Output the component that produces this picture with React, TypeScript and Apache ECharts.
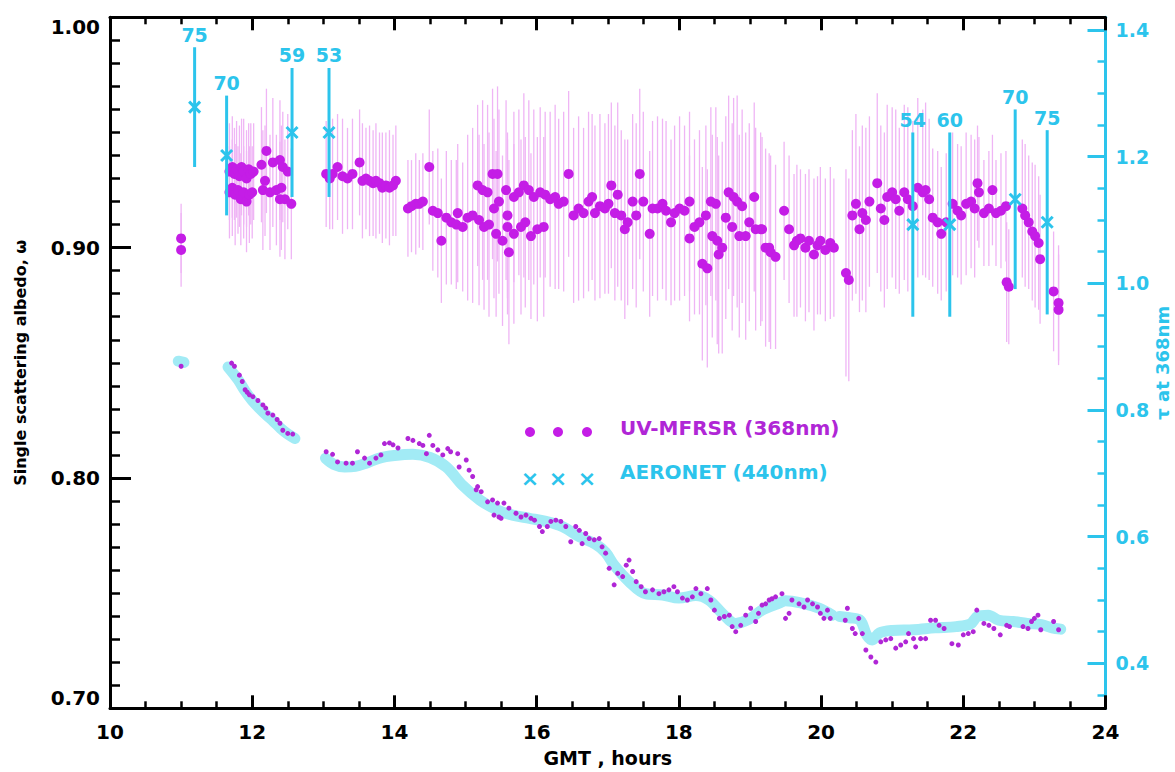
import React, { useEffect, useRef } from "react";
import * as echarts from "echarts";

// ---------- data ----------
// UV-MFRSR single scattering albedo at 368 nm: [GMT hour, albedo, error half-width]
const uvSsa: number[][] = [
  [11.00,0.904,0.015],[11.00,0.899,0.016],
  [11.68,0.933,0.021],[11.68,0.924,0.020],[11.72,0.935,0.022],[11.72,0.926,0.021],[11.75,0.932,0.020],[11.76,0.923,0.022],[11.78,0.934,0.021],[11.80,0.925,0.019],[11.82,0.931,0.022],[11.84,0.921,0.020],[11.85,0.935,0.021],[11.88,0.933,0.023],[11.88,0.924,0.020],[11.92,0.930,0.021],[11.92,0.920,0.022],[11.95,0.934,0.020],[11.96,0.923,0.021],[11.98,0.932,0.022],[12.00,0.924,0.020],[12.02,0.933,0.021],
  [12.13,0.936,0.025],[12.15,0.925,0.026],[12.18,0.929,0.024],[12.20,0.942,0.027],[12.25,0.924,0.025],[12.29,0.937,0.028],[12.34,0.925,0.024],[12.39,0.938,0.026],[12.39,0.921,0.025],[12.41,0.926,0.027],[12.43,0.935,0.024],[12.46,0.921,0.026],[12.50,0.933,0.025],[12.55,0.919,0.024],
  [13.04,0.932,0.023],[13.09,0.930,0.022],[13.13,0.932,0.024],[13.20,0.935,0.023],[13.27,0.931,0.025],[13.34,0.930,0.022],[13.41,0.932,0.024],[13.51,0.937,0.023],[13.55,0.929,0.025],[13.60,0.930,0.022],[13.65,0.929,0.024],[13.70,0.928,0.023],[13.74,0.929,0.025],[13.79,0.928,0.022],[13.83,0.926,0.024],[13.88,0.927,0.023],[13.93,0.926,0.025],[13.98,0.927,0.022],[14.02,0.929,0.024],
  [14.19,0.917,0.021],[14.24,0.918,0.020],[14.30,0.919,0.022],[14.35,0.919,0.019],[14.40,0.920,0.021],[14.49,0.935,0.025],[14.54,0.916,0.026],[14.61,0.915,0.028],[14.66,0.903,0.027],[14.73,0.913,0.029],[14.80,0.911,0.027],[14.87,0.910,0.028],[14.89,0.915,0.030],[14.96,0.909,0.028],
  [15.03,0.913,0.036],[15.10,0.914,0.038],[15.17,0.927,0.035],[15.19,0.912,0.037],[15.24,0.925,0.039],[15.26,0.909,0.036],[15.31,0.924,0.038],[15.33,0.910,0.040],[15.38,0.932,0.037],[15.40,0.917,0.039],[15.43,0.906,0.036],[15.45,0.932,0.038],[15.47,0.920,0.040],[15.52,0.903,0.037],[15.57,0.925,0.039],[15.59,0.914,0.036],[15.59,0.909,0.038],[15.61,0.898,0.040],[15.68,0.922,0.037],[15.68,0.906,0.039],[15.75,0.924,0.036],[15.78,0.909,0.038],[15.82,0.927,0.040],[15.84,0.911,0.037],[15.89,0.925,0.039],[15.92,0.905,0.036],[15.96,0.922,0.038],[16.01,0.908,0.040],[16.05,0.924,0.037],[16.10,0.909,0.039],[16.12,0.923,0.036],[16.19,0.921,0.038],[16.26,0.922,0.040],[16.31,0.919,0.037],[16.38,0.920,0.039],[16.45,0.932,0.036],[16.52,0.914,0.038],[16.59,0.917,0.040],[16.66,0.915,0.037],[16.73,0.920,0.039],[16.78,0.922,0.036],[16.82,0.915,0.038],[16.89,0.918,0.040],[16.96,0.917,0.037],[17.01,0.919,0.039],[17.05,0.927,0.036],[17.10,0.915,0.038],[17.14,0.923,0.040],[17.19,0.914,0.037],[17.24,0.908,0.039],[17.28,0.911,0.036],[17.35,0.920,0.038],[17.40,0.914,0.040],[17.45,0.932,0.037],[17.50,0.920,0.039],[17.59,0.906,0.036],[17.63,0.917,0.038],[17.70,0.917,0.040],[17.77,0.919,0.037],[17.82,0.916,0.039],[17.89,0.911,0.036],[17.94,0.915,0.038],[18.01,0.917,0.040],[18.08,0.916,0.037],[18.15,0.920,0.039],[18.15,0.904,0.036],[18.22,0.909,0.038],[18.29,0.911,0.040],[18.33,0.893,0.042],[18.38,0.914,0.039],[18.40,0.891,0.043],[18.45,0.920,0.041],[18.47,0.905,0.044],[18.52,0.919,0.042],[18.54,0.903,0.045],[18.56,0.897,0.043],[18.61,0.900,0.046],[18.66,0.913,0.044],[18.70,0.924,0.042],[18.75,0.909,0.045],[18.77,0.922,0.043],[18.82,0.920,0.046],[18.85,0.905,0.044],[18.89,0.918,0.042],[18.94,0.905,0.045],[18.99,0.911,0.043],[19.06,0.922,0.041],[19.08,0.908,0.044],[19.15,0.908,0.042],[19.17,0.908,0.040],[19.22,0.900,0.043],[19.27,0.900,0.041],[19.29,0.898,0.042],[19.36,0.896,0.040],
  [19.48,0.916,0.030],[19.55,0.908,0.032],[19.62,0.901,0.031],[19.66,0.903,0.033],[19.71,0.904,0.030],[19.78,0.900,0.032],[19.83,0.903,0.031],[19.90,0.897,0.033],[19.95,0.901,0.030],[19.99,0.903,0.032],[20.06,0.899,0.031],[20.13,0.902,0.033],[20.18,0.900,0.030],
  [20.35,0.889,0.045],[20.39,0.886,0.044],
  [20.44,0.914,0.037],[20.49,0.919,0.039],[20.54,0.908,0.036],[20.58,0.915,0.038],[20.63,0.912,0.040],[20.68,0.920,0.037],[20.79,0.928,0.039],[20.84,0.917,0.036],[20.89,0.912,0.038],[20.93,0.922,0.040],[21.00,0.924,0.037],[21.05,0.921,0.039],[21.10,0.916,0.036],[21.17,0.924,0.038],[21.22,0.921,0.040],[21.29,0.918,0.037],[21.36,0.926,0.039],[21.43,0.924,0.036],[21.47,0.925,0.038],[21.52,0.921,0.035],
  [21.57,0.913,0.030],[21.64,0.911,0.031],[21.69,0.906,0.029],[21.76,0.911,0.030],[21.85,0.919,0.031],[21.92,0.916,0.029],[21.97,0.914,0.030],[22.04,0.919,0.031],[22.11,0.920,0.029],[22.16,0.917,0.030],
  [22.20,0.928,0.025],[22.22,0.924,0.024],[22.29,0.915,0.023],[22.36,0.917,0.025],[22.41,0.925,0.024],[22.46,0.915,0.023],[22.53,0.916,0.025],[22.60,0.918,0.024],[22.61,0.885,0.026],[22.64,0.883,0.025],
  [22.83,0.917,0.030],[22.87,0.914,0.031],[22.92,0.911,0.029],[22.97,0.907,0.030],[23.01,0.905,0.031],[23.06,0.902,0.029],[23.08,0.895,0.028],[23.27,0.881,0.026],[23.34,0.876,0.025],[23.34,0.873,0.024]
];

// AERONET single scattering albedo at 440 nm with solar zenith angle labels
const aeronetTime = [11.19, 11.64, 12.56, 13.08, 21.29, 21.81, 22.73, 23.18];
const aeronetSsa = [0.961, 0.940, 0.950, 0.950, 0.910, 0.910, 0.921, 0.911];
const aeronetErr = [0.026, 0.026, 0.028, 0.028, 0.040, 0.040, 0.039, 0.040];
const zenithLabels = ["75", "70", "59", "53", "54", "60", "70", "75"];

// UV-MFRSR optical depth at 368 nm: [GMT hour, tau]
const uvTau: number[][] = [
  [11.00,0.869],[11.71,0.874],[11.75,0.869],[11.82,0.855],[11.86,0.845],[11.90,0.832],[11.93,0.828],[11.96,0.824],[12.01,0.821],[12.08,0.815],[12.15,0.808],[12.19,0.803],[12.22,0.795],[12.29,0.792],[12.35,0.785],[12.39,0.779],[12.43,0.768],[12.50,0.763],[12.57,0.762],
  [13.04,0.734],[13.13,0.730],[13.20,0.718],[13.32,0.716],[13.41,0.716],[13.48,0.734],[13.58,0.724],[13.65,0.716],[13.74,0.724],[13.81,0.729],[13.86,0.747],[13.93,0.748],[13.98,0.745],[14.05,0.740],[14.19,0.755],[14.26,0.752],[14.35,0.747],[14.40,0.744],[14.45,0.731],[14.49,0.760],[14.54,0.744],[14.61,0.737],[14.68,0.729],[14.75,0.739],[14.79,0.734],[14.89,0.731],[14.91,0.710],[15.01,0.721],[15.05,0.705],[15.10,0.695],[15.15,0.674],[15.17,0.679],[15.22,0.671],[15.31,0.655],[15.38,0.658],[15.40,0.634],[15.45,0.653],[15.47,0.631],[15.50,0.629],[15.54,0.653],[15.61,0.645],[15.71,0.637],[15.78,0.631],[15.85,0.634],[15.92,0.629],[15.97,0.626],
  [16.04,0.616],[16.08,0.608],[16.15,0.616],[16.20,0.624],[16.27,0.626],[16.34,0.624],[16.41,0.616],[16.48,0.592],[16.55,0.616],[16.60,0.610],[16.64,0.589],[16.69,0.605],[16.74,0.597],[16.81,0.595],[16.88,0.597],[16.92,0.584],[16.97,0.574],[17.02,0.550],[17.09,0.524],[17.14,0.542],[17.21,0.537],[17.26,0.555],[17.30,0.563],[17.35,0.545],[17.40,0.529],[17.47,0.521],[17.53,0.513],[17.63,0.516],[17.72,0.510],[17.79,0.513],[17.86,0.516],[17.93,0.521],[17.98,0.513],
  [18.05,0.503],[18.12,0.500],[18.19,0.505],[18.24,0.518],[18.31,0.510],[18.40,0.518],[18.45,0.500],[18.50,0.484],[18.57,0.471],[18.64,0.474],[18.71,0.476],[18.75,0.458],[18.80,0.450],[18.87,0.460],[18.94,0.476],[19.01,0.487],[19.08,0.466],[19.12,0.479],[19.17,0.492],[19.22,0.494],[19.27,0.500],[19.31,0.502],[19.36,0.505],[19.45,0.510],[19.50,0.471],[19.55,0.479],[19.59,0.500],[19.69,0.494],[19.76,0.489],[19.81,0.500],[19.88,0.494],[19.95,0.489],[19.99,0.479],
  [20.04,0.471],[20.09,0.484],[20.13,0.471],[20.34,0.468],[20.37,0.487],[20.44,0.455],[20.48,0.447],[20.53,0.471],[20.58,0.447],[20.63,0.421],[20.70,0.410],[20.77,0.402],[20.84,0.434],[20.91,0.437],[20.98,0.439],[21.05,0.424],[21.12,0.429],[21.19,0.434],[21.23,0.447],[21.30,0.439],[21.33,0.426],[21.40,0.439],[21.47,0.439],[21.54,0.468],[21.61,0.468],[21.66,0.460],[21.73,0.455],[21.84,0.431],[21.93,0.429],
  [22.00,0.445],[22.07,0.447],[22.14,0.450],[22.19,0.484],[22.29,0.463],[22.36,0.460],[22.43,0.455],[22.52,0.445],[22.61,0.460],[22.65,0.458],[22.84,0.458],[22.91,0.455],[22.96,0.466],[23.00,0.471],[23.05,0.476],[23.09,0.453],[23.27,0.466],[23.34,0.453]
];

// AERONET optical depth (dense band), one array per continuous stretch
const aeronetTauA: number[][] = [[10.96,0.877],[11.04,0.875]];
const aeronetTauB: number[][] = [[11.66,0.868],[11.80,0.848],[11.90,0.830],[12.00,0.815],[12.10,0.803],[12.20,0.792],[12.30,0.782],[12.40,0.771],[12.50,0.762],[12.60,0.755]];
const aeronetTauC: number[][] = [[13.03,0.724],[13.15,0.714],[13.30,0.710],[13.45,0.711],[13.60,0.716],[13.79,0.724],[14.00,0.728],[14.26,0.730],[14.50,0.725],[14.73,0.710],[14.96,0.681],[15.20,0.658],[15.43,0.643],[15.66,0.634],[15.90,0.629],[16.13,0.624],[16.36,0.616],[16.60,0.600],[16.83,0.588],[16.97,0.575],[17.09,0.555],[17.30,0.529],[17.53,0.510],[17.77,0.508],[18.00,0.503],[18.24,0.507],[18.42,0.500],[18.61,0.479],[18.80,0.463],[18.99,0.470],[19.17,0.484],[19.41,0.495],[19.50,0.499],[19.73,0.495],[19.97,0.487],[20.16,0.476]];
const aeronetTauD: number[][] = [[20.26,0.474],[20.40,0.472],[20.55,0.468],[20.64,0.445],[20.72,0.437],[20.82,0.448],[21.00,0.452],[21.30,0.453],[21.60,0.456],[21.90,0.458],[22.10,0.462],[22.20,0.474],[22.35,0.476],[22.50,0.468],[22.70,0.466],[22.90,0.463],[23.10,0.461],[23.25,0.456],[23.37,0.454]];

// axis ticks
const tauMajorTicks = [0.4, 0.6, 0.8, 1.0, 1.2, 1.4];
const tauMinorTicks = [0.35, 0.45, 0.5, 0.55, 0.65, 0.7, 0.75, 0.85, 0.9, 0.95, 1.05, 1.1, 1.15, 1.25, 1.3, 1.35];

const CYAN = "#2CC4EC";
const CYAN_BAND = "#A2EBF5";
const MAGENTA = "#C41DE6";
const MAGENTA_DARK = "#B026D6";
const PINK_BAR = "#EFB5F5";
const FONT = "DejaVu Sans";

export default function App() {
  const ref = useRef<HTMLDivElement>(null);

  useEffect(() => {
    if (!ref.current) return;
    const chart = echarts.init(ref.current, undefined, { renderer: "svg" });

    const blackLine = { color: "#000", width: 3 };
    const xAxisCommon = {
      type: "value",
      min: 10,
      max: 24,
      interval: 2,
      axisLine: { show: true, onZero: false, lineStyle: blackLine },
      axisTick: { show: true, inside: true, length: 13, lineStyle: { color: "#000", width: 3 } },
      minorTick: { show: true, splitNumber: 4, length: 7, lineStyle: { color: "#000", width: 2.5 } },
      splitLine: { show: false },
      minorSplitLine: { show: false },
    };

    const tauSegment = (data: number[][]) => ({
      type: "line",
      xAxisIndex: 0,
      yAxisIndex: 1,
      data,
      symbol: "none",
      smooth: 0.35,
      lineStyle: { color: CYAN_BAND, width: 11, cap: "round", join: "round" },
      z: 2,
      silent: true,
    });

    const option: any = {
      animation: false,
      backgroundColor: "#ffffff",
      grid: {
        left: 110,
        right: 69.5,
        top: 17.3,
        bottom: 63.7,
        containLabel: false,
        outerBoundsMode: "none",
      },
      xAxis: [
        {
          ...xAxisCommon,
          position: "bottom",
          axisLabel: { color: "#000", fontFamily: FONT, fontWeight: "bold", fontSize: 20, margin: 14 },
          name: "GMT , hours",
          nameLocation: "middle",
          nameGap: 40,
          nameMoveOverlap: false,
          nameTextStyle: { color: "#000", fontFamily: FONT, fontWeight: "bold", fontSize: 19 },
        },
        {
          ...xAxisCommon,
          position: "top",
          axisLabel: { show: false },
        },
      ],
      yAxis: [
        {
          type: "value",
          position: "left",
          min: 0.7,
          max: 1.0,
          interval: 0.1,
          axisLine: { show: true, onZero: false, lineStyle: blackLine },
          axisTick: { show: true, inside: true, length: 21, lineStyle: { color: "#000", width: 3 } },
          minorTick: { show: true, splitNumber: 10, length: 10, lineStyle: { color: "#000", width: 2.5 } },
          splitLine: { show: false },
          axisLabel: {
            color: "#000",
            fontFamily: FONT,
            fontWeight: "bold",
            fontSize: 20,
            margin: 10,
            formatter: (v: number) => v.toFixed(2),
            verticalAlignMaxLabel: "top",
            verticalAlignMinLabel: "bottom",
          },
          name: "Single scattering albedo, \u03c9",
          nameLocation: "middle",
          nameRotate: 90,
          nameGap: 82,
          nameMoveOverlap: false,
          nameTextStyle: { color: "#000", fontFamily: FONT, fontWeight: "bold", fontSize: 16 },
        },
        {
          type: "value",
          position: "right",
          min: 0.329,
          max: 1.42,
          axisLine: { show: true, onZero: false, lineStyle: { color: CYAN, width: 3 } },
          axisTick: { show: true, inside: true, length: 18, customValues: tauMajorTicks, lineStyle: { color: CYAN, width: 3 } },
          splitLine: { show: false },
          axisLabel: {
            color: CYAN,
            fontFamily: FONT,
            fontWeight: "bold",
            fontSize: 19,
            margin: 10,
            customValues: tauMajorTicks,
            formatter: (v: number) => v.toFixed(1),
          },
          name: "\u03c4 at 368nm",
          nameLocation: "middle",
          nameRotate: 90,
          nameGap: 48,
          nameMoveOverlap: false,
          nameTextStyle: { color: CYAN, fontFamily: FONT, fontWeight: "bold", fontSize: 18 },
        },
        {
          type: "value",
          position: "right",
          offset: 0,
          min: 0.329,
          max: 1.42,
          axisLine: { show: false },
          axisTick: { show: true, inside: true, length: 8, customValues: tauMinorTicks, lineStyle: { color: CYAN, width: 2.5 } },
          axisLabel: { show: false },
          splitLine: { show: false },
        },
      ],
      series: [
        {
          name: "UV-MFRSR SSA error",
          type: "custom",
          xAxisIndex: 0,
          yAxisIndex: 0,
          data: uvSsa,
          encode: { x: 0, y: 1 },
          z: 1,
          silent: true,
          renderItem: (_params: any, api: any) => {
            const x = api.value(0);
            const v = api.value(1);
            const e = api.value(2);
            const p1 = api.coord([x, v - e]);
            const p2 = api.coord([x, v + e]);
            return {
              type: "line",
              shape: { x1: p1[0], y1: p1[1], x2: p2[0], y2: p2[1] },
              style: { stroke: PINK_BAR, lineWidth: 1.3 },
            };
          },
        },
        tauSegment(aeronetTauA),
        tauSegment(aeronetTauB),
        tauSegment(aeronetTauC),
        tauSegment(aeronetTauD),
        {
          name: "UV-MFRSR (368nm)",
          type: "scatter",
          xAxisIndex: 0,
          yAxisIndex: 0,
          data: uvSsa.map((d) => [d[0], d[1]]),
          symbol: "circle",
          symbolSize: 10,
          itemStyle: { color: MAGENTA, opacity: 1 },
          z: 4,
          silent: true,
        },
        {
          name: "UV-MFRSR tau",
          type: "scatter",
          xAxisIndex: 0,
          yAxisIndex: 1,
          data: uvTau,
          symbol: "circle",
          symbolSize: 5,
          itemStyle: { color: MAGENTA_DARK, opacity: 1 },
          z: 4,
          silent: true,
        },
        {
          name: "AERONET (440nm)",
          type: "custom",
          xAxisIndex: 0,
          yAxisIndex: 0,
          data: aeronetTime.map((t, i) => [t, aeronetSsa[i], aeronetErr[i]]),
          encode: { x: 0, y: 1 },
          z: 5,
          silent: true,
          renderItem: (params: any, api: any) => {
            const i = params.dataIndex;
            const x = api.value(0);
            const v = api.value(1);
            const e = api.value(2);
            const top = api.coord([x, v + e]);
            const bot = api.coord([x, v - e]);
            const c = api.coord([x, v]);
            const s = 5.5;
            const st = { stroke: CYAN, lineWidth: 3 };
            return {
              type: "group",
              children: [
                { type: "line", shape: { x1: top[0], y1: top[1], x2: bot[0], y2: bot[1] }, style: st },
                { type: "line", shape: { x1: c[0] - s, y1: c[1] - s, x2: c[0] + s, y2: c[1] + s }, style: st },
                { type: "line", shape: { x1: c[0] - s, y1: c[1] + s, x2: c[0] + s, y2: c[1] - s }, style: st },
                {
                  type: "text",
                  x: top[0],
                  y: top[1] - 3,
                  style: {
                    text: zenithLabels[i],
                    fill: CYAN,
                    fontFamily: FONT,
                    fontWeight: "bold",
                    fontSize: 19,
                    align: "center",
                    verticalAlign: "bottom",
                  },
                },
              ],
            };
          },
        },
      ],
      graphic: [
        { type: "circle", shape: { cx: 530, cy: 432, r: 5 }, style: { fill: MAGENTA } },
        { type: "circle", shape: { cx: 558, cy: 432, r: 5 }, style: { fill: MAGENTA } },
        { type: "circle", shape: { cx: 587, cy: 432, r: 5 }, style: { fill: MAGENTA } },
        {
          type: "text",
          x: 620,
          y: 428,
          style: { text: "UV-MFRSR (368nm)", fill: MAGENTA_DARK, fontFamily: FONT, fontWeight: "bold", fontSize: 20, verticalAlign: "middle" },
        },
        { type: "text", x: 530, y: 478, style: { text: "\u00d7", fill: CYAN, fontFamily: FONT, fontWeight: "bold", fontSize: 22, align: "center", verticalAlign: "middle" } },
        { type: "text", x: 558, y: 478, style: { text: "\u00d7", fill: CYAN, fontFamily: FONT, fontWeight: "bold", fontSize: 22, align: "center", verticalAlign: "middle" } },
        { type: "text", x: 587, y: 478, style: { text: "\u00d7", fill: CYAN, fontFamily: FONT, fontWeight: "bold", fontSize: 22, align: "center", verticalAlign: "middle" } },
        {
          type: "text",
          x: 620,
          y: 472,
          style: { text: "AERONET (440nm)", fill: CYAN, fontFamily: FONT, fontWeight: "bold", fontSize: 20, verticalAlign: "middle" },
        },
      ],
    };

    chart.setOption(option);
    return () => {
      chart.dispose();
    };
  }, []);

  return (
    <div
      ref={ref}
      style={{ position: "absolute", left: 0, top: 0, width: 1175, height: 772, background: "#fff" }}
    />
  );
}
